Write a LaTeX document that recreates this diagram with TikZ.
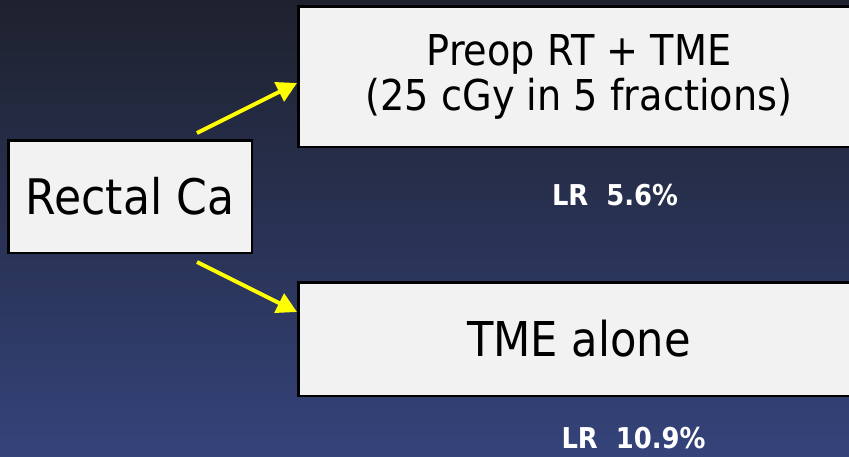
\documentclass[tikz,border=0pt]{standalone}
\usepackage{fontspec}
\setmainfont{DejaVu Sans}[FakeStretch=0.9]
\usetikzlibrary{arrows.meta}
\usetikzlibrary{calc}

\definecolor{slidetop}{RGB}{30,33,45}
\definecolor{slidebot}{RGB}{52,67,122}
\definecolor{boxfill}{RGB}{242,242,242}
\definecolor{armyellow}{RGB}{255,255,0}

\tikzset{
    armbox/.style={draw=black, line width=2.5pt, fill=boxfill, inner sep=0pt, align=center},
    lrtext/.style={text=white, font=\bfseries\fontsize{28.7}{33}\selectfont},
    armarrow/.style={draw=armyellow, line width=4pt, -{Triangle[length=20pt,width=21pt,fill=armyellow]}},
}

\begin{document}
\begin{tikzpicture}[x=1pt,y=-1pt]
                \clip (0,0) rectangle (849,456);
                \shade[top color=slidetop, bottom color=slidebot] (0,0) rectangle (849,456);
                \node[armbox, minimum width=243.5pt, minimum height=112.5pt, font=\fontsize{49}{55}\selectfont] (rectal) at (130,196.5) {Rectal Ca};
                \node[armbox, minimum width=561.5pt, minimum height=140.5pt, font=\fontsize{42.5}{45}\selectfont] (preop) at (579,76.5) {Preop RT + TME\\(25 cGy in 5 fractions)};
                \node[armbox, minimum width=561.5pt, minimum height=113.5pt, font=\fontsize{48}{55}\selectfont] (alone) at (579,339) {TME alone};
                \node[lrtext] (lrpreop) at (615,195.5) {LR~~5.6\%};
                \node[lrtext] (lralone) at (633.5,438) {LR~~10.9\%};
                \coordinate (uparm) at ([xshift=67pt,yshift=6pt]rectal.north);
                \coordinate (downarm) at ([xshift=67pt,yshift=-8pt]rectal.south);
                \draw[armarrow] (uparm) -- ([yshift=-6.5pt]preop.west);
                \draw[armarrow] (downarm) -- ([yshift=27pt]alone.west);
            \end{tikzpicture}
\end{document}
